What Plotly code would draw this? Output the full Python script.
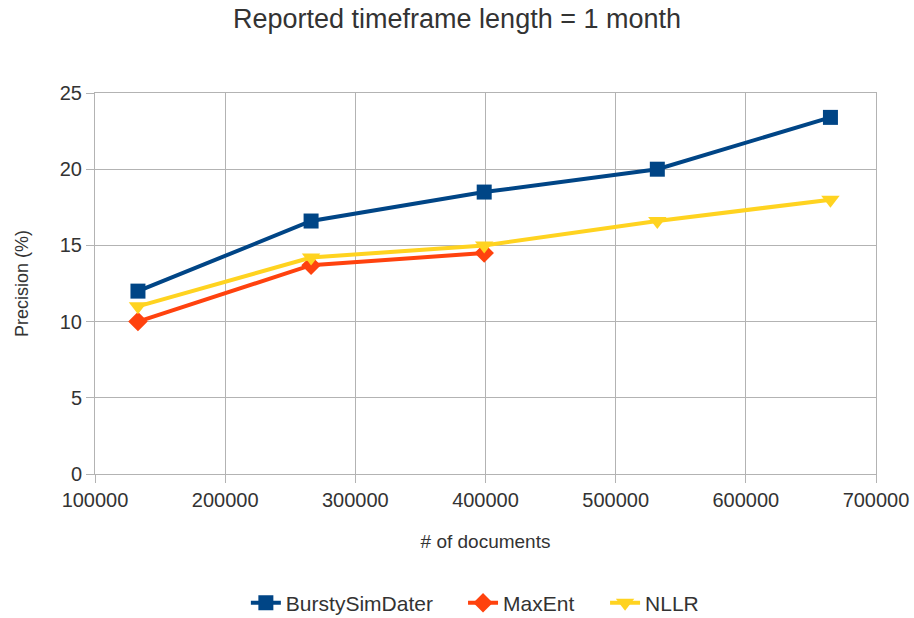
import plotly.graph_objects as go

docs = [133000, 266000, 399000, 532000, 665000]
bursty = [12.0, 16.6, 18.5, 20.0, 23.4]
maxent_docs = [133000, 266000, 399000]
maxent = [10.0, 13.7, 14.5]
nllr = [11.0, 14.2, 15.0, 16.6, 18.0]

FONT = "Liberation Sans"
TXT = "#333333"
GRID = "#b3b3b3"

fig = go.Figure()
fig.add_trace(go.Scatter(
    x=docs, y=bursty, name="BurstySimDater", mode="lines+markers",
    line=dict(color="#004586", width=4),
    marker=dict(symbol="square", size=15, color="#004586"),
    legend="legend",
))
fig.add_trace(go.Scatter(
    x=maxent_docs, y=maxent, name="MaxEnt", mode="lines+markers",
    line=dict(color="#ff420e", width=4),
    marker=dict(symbol="diamond", size=15, color="#ff420e"),
    legend="legend2",
))
fig.add_trace(go.Scatter(
    x=docs, y=nllr, name="NLLR", mode="lines+markers",
    line=dict(color="#ffd320", width=4),
    marker=dict(symbol="triangle-down", size=16, color="#ffd320"),
    legend="legend3",
))

# one legend per series so the entries can be spaced out along the bottom
leg_common = dict(orientation="h", xref="container", yref="container",
                  xanchor="left", y=0.0243, yanchor="middle",
                  font=dict(size=21, color=TXT), bgcolor="rgba(0,0,0,0)")

fig.update_layout(
    width=914, height=618,
    margin=dict(l=95, r=38, t=93, b=144, autoexpand=False),
    paper_bgcolor="white", plot_bgcolor="white",
    font=dict(family=FONT, color=TXT, size=20),
    title=dict(text="Reported timeframe length = 1 month", x=0.5, xanchor="center",
               y=0.97, yanchor="middle", font=dict(size=27, color=TXT)),
    showlegend=True,
    legend=dict(x=0.269, **leg_common),
    legend2=dict(x=0.5066, **leg_common),
    legend3=dict(x=0.662, **leg_common),
    xaxis=dict(range=[100000, 700000], dtick=100000, tickformat="d",
               showgrid=True, gridcolor=GRID, gridwidth=1,
               showline=True, linecolor=GRID, mirror=True,
               ticks="outside", ticklen=8, tickcolor=GRID,
               zeroline=False, tickfont=dict(size=20), automargin=False,
               title=dict(text="# of documents", font=dict(size=19), standoff=24)),
    yaxis=dict(range=[0, 25], dtick=5,
               showgrid=True, gridcolor=GRID, gridwidth=1,
               showline=True, linecolor=GRID, mirror=True,
               ticks="outside", ticklen=8, tickcolor=GRID,
               zeroline=False, tickfont=dict(size=20), automargin=False,
               title=dict(text="Precision (%)", font=dict(size=18), standoff=26)),
)

fig.write_html("out.html")
